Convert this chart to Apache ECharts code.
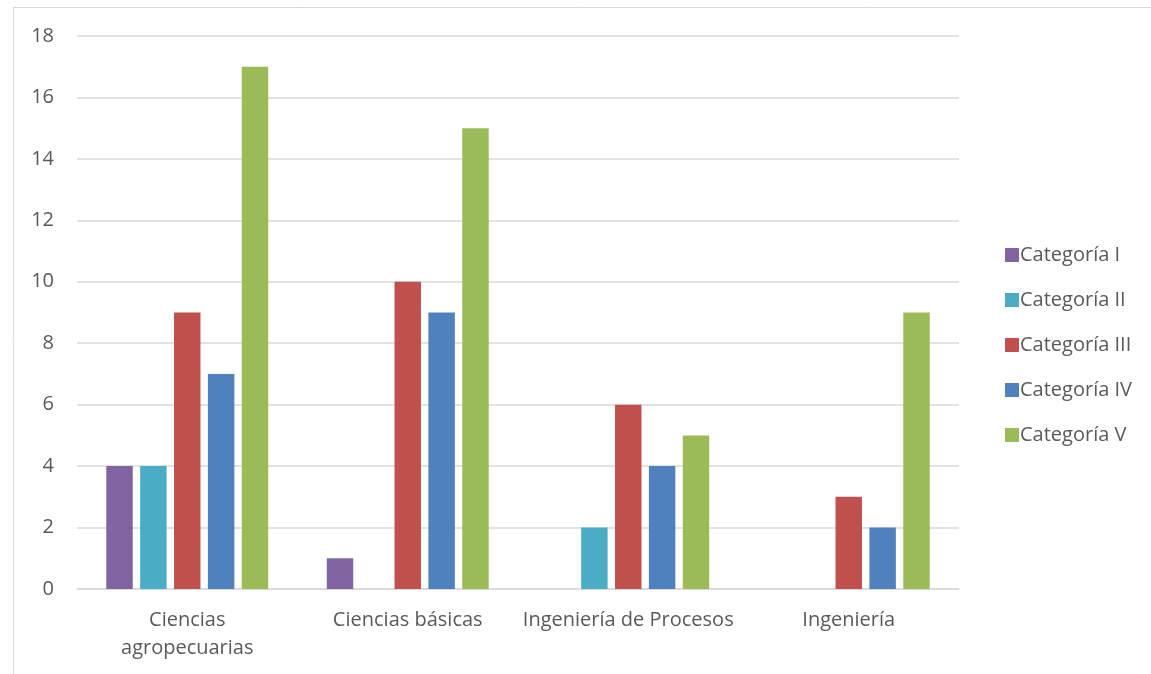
<!DOCTYPE html>
<html>
<head>
<meta charset="utf-8">
<script src="https://cdn.jsdelivr.net/npm/echarts@6/dist/echarts.min.js"></script>
<style>
  html, body { margin: 0; padding: 0; background: #fff; }
  #chart { width: 1151px; height: 674px; }
</style>
</head>
<body>
<div id="chart"></div>
<script>
// data
const categories = ["Ciencias\nagropecuarias", "Ciencias básicas", "Ingeniería de Procesos", "Ingeniería"];
const seriesNames = ["Categoría I", "Categoría II", "Categoría III", "Categoría IV", "Categoría V"];
const catI = [4, 1, 0, 0];
const catII = [4, 0, 2, 0];
const catIII = [9, 10, 6, 3];
const catIV = [7, 9, 4, 2];
const catV = [17, 15, 5, 9];
const yTicks = [0, 2, 4, 6, 8, 10, 12, 14, 16, 18];

const colors = ["#8064A2", "#4BACC6", "#C0504D", "#4F81BD", "#9BBB59"];
const values = [catI, catII, catIII, catIV, catV];
const font = "'Open Sans', sans-serif";

const chart = echarts.init(document.getElementById("chart"));
chart.setOption({
  animation: false,
  color: colors,
  textStyle: { fontFamily: font },
  graphic: [{
    type: "rect",
    shape: { x: 13.5, y: 7.5, width: 1200, height: 700 },
    style: { fill: null, stroke: "#d9d9d9", lineWidth: 1 }
  }],
  grid: { left: 77, right: 192, top: 36, bottom: 85 },
  legend: {
    orient: "vertical",
    left: 1000,
    top: 240,
    itemWidth: 14,
    itemHeight: 14,
    itemGap: 25,
    icon: "rect",
    data: seriesNames,
    textStyle: { color: "#595959", fontSize: 20, fontFamily: font, lineHeight: 20, padding: [0, 0, 0, -4] }
  },
  xAxis: {
    type: "category",
    data: categories,
    axisTick: { show: false },
    axisLine: { lineStyle: { color: "#d9d9d9", width: 1.5 } },
    axisLabel: { color: "#595959", fontSize: 20, fontFamily: font, margin: 17, lineHeight: 28, interval: 0 }
  },
  yAxis: {
    type: "value",
    min: yTicks[0],
    max: yTicks[yTicks.length - 1],
    interval: 2,
    axisLine: { show: false },
    axisTick: { show: false },
    axisLabel: { color: "#595959", fontSize: 20, fontFamily: font, margin: 23 },
    splitLine: { lineStyle: { color: "#d9d9d9", width: 1.5 } }
  },
  series: seriesNames.map((name, i) => ({
    name: name,
    type: "bar",
    data: values[i],
    barWidth: "12%",
    barGap: "28%",
    itemStyle: { color: colors[i] }
  }))
});
</script>
</body>
</html>
